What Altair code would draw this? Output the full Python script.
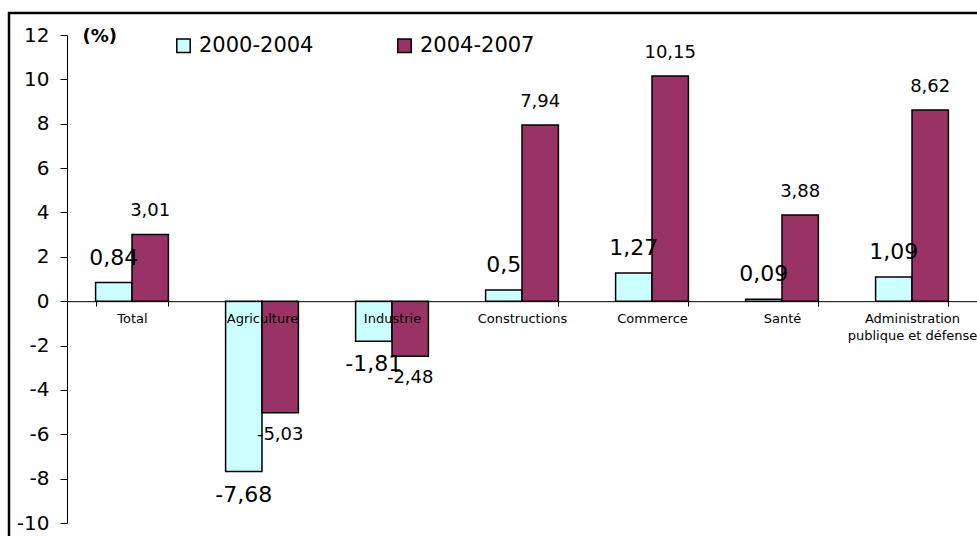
import altair as alt
import pandas as pd

categories = ["Total", "Agriculture", "Industrie", "Constructions", "Commerce", "Santé",
              "Administration publique et défense"]
series = ["2000-2004", "2004-2007"]
v_2000_2004 = [0.84, -7.68, -1.81, 0.5, 1.27, 0.09, 1.09]
v_2004_2007 = [3.01, -5.03, -2.48, 7.94, 10.15, 3.88, 8.62]
y_ticks = [-10, -8, -6, -4, -2, 0, 2, 4, 6, 8, 10, 12]
colors = ["#CCFFFF", "#993366"]
label_sizes = [22, 18]

rows = []
for c, a, b in zip(categories, v_2000_2004, v_2004_2007):
    rows.append({"cat": c, "series": series[0], "value": a, "fs": label_sizes[0]})
    rows.append({"cat": c, "series": series[1], "value": b, "fs": label_sizes[1]})
df = pd.DataFrame(rows)

FONT = "DejaVu Sans"
W, H = 910, 488
zero_from_bottom = H * 10 / 22

x = alt.X(
    "cat:N", sort=categories, title=None,
    scale=alt.Scale(paddingInner=0.44, paddingOuter=0.22),
    axis=alt.Axis(
        orient="bottom", offset=-zero_from_bottom, tickBand="extent", labelAngle=0,
        labelFont=FONT, labelFontSize=13, labelColor="black", domainColor="black",
        tickColor="black", tickSize=5, labelPadding=6, labelLineHeight=17, labelLimit=0,
        labelBaseline="top", zindex=1,
        labelExpr="datum.value == 'Administration publique et défense' ? ['Administration', 'publique et défense'] : datum.label",
    ),
)
xo = alt.XOffset("series:N", sort=series, scale=alt.Scale(paddingInner=0, paddingOuter=0))
y = alt.Y(
    "value:Q",
    scale=alt.Scale(domain=[-10, 12], nice=False, zero=False),
    axis=alt.Axis(
        values=y_ticks, grid=False, labelFont=FONT, labelFontSize=20, labelColor="black",
        labelPadding=11, tickSize=7, tickColor="black", domainColor="black",
        labelExpr="toString(datum.value)",
        title="(%)", titleAngle=0, titleX=15, titleY=1.5, titleAlign="left",
        titleBaseline="middle", titleFont=FONT, titleFontSize=18, titleFontWeight="bold",
        titleColor="black",
    ),
)

base = alt.Chart(df)

bars = base.mark_bar(stroke="black", strokeWidth=1.5).encode(
    x=x, xOffset=xo, y=y,
    color=alt.Color(
        "series:N", sort=series,
        scale=alt.Scale(domain=series, range=colors),
        legend=alt.Legend(
            title=None, orient="none", legendX=106, legendY=0, direction="horizontal",
            symbolType="square", symbolSize=180, symbolStrokeColor="black",
            symbolStrokeWidth=1.5, labelFont=FONT, labelFontSize=21, labelColor="black",
            labelOffset=5, columnPadding=80,
        ),
    ),
)

lab = base.transform_calculate(lbl="replace(toString(datum.value), '.', ',')")
size_enc = alt.Size("fs:Q", scale=None, legend=None)

pos = lab.transform_filter("datum.value >= 0").mark_text(
    baseline="alphabetic", dy=-18, font=FONT, color="black"
).encode(x=x, xOffset=xo, y=y, text="lbl:N", size=size_enc)

neg = lab.transform_filter("datum.value < 0").mark_text(
    baseline="top", dy=13, font=FONT, color="black"
).encode(x=x, xOffset=xo, y=y, text="lbl:N", size=size_enc)

frame = alt.Chart(pd.DataFrame({"a": [0]})).mark_rect(
    fill="white", fillOpacity=0, stroke="black", strokeWidth=2.5
).encode(
    x=alt.value(-58), x2=alt.value(940), y=alt.value(-22), y2=alt.value(570)
)

chart = alt.layer(frame, bars, pos, neg).properties(
    width=W, height=H,
    autosize=alt.AutoSizeParams(type="none"),
    padding={"left": 67, "top": 35, "right": 0, "bottom": 13},
    background="white",
).configure_view(stroke=None)

chart.save("out.html", embed_options={"renderer": "svg", "actions": False})
